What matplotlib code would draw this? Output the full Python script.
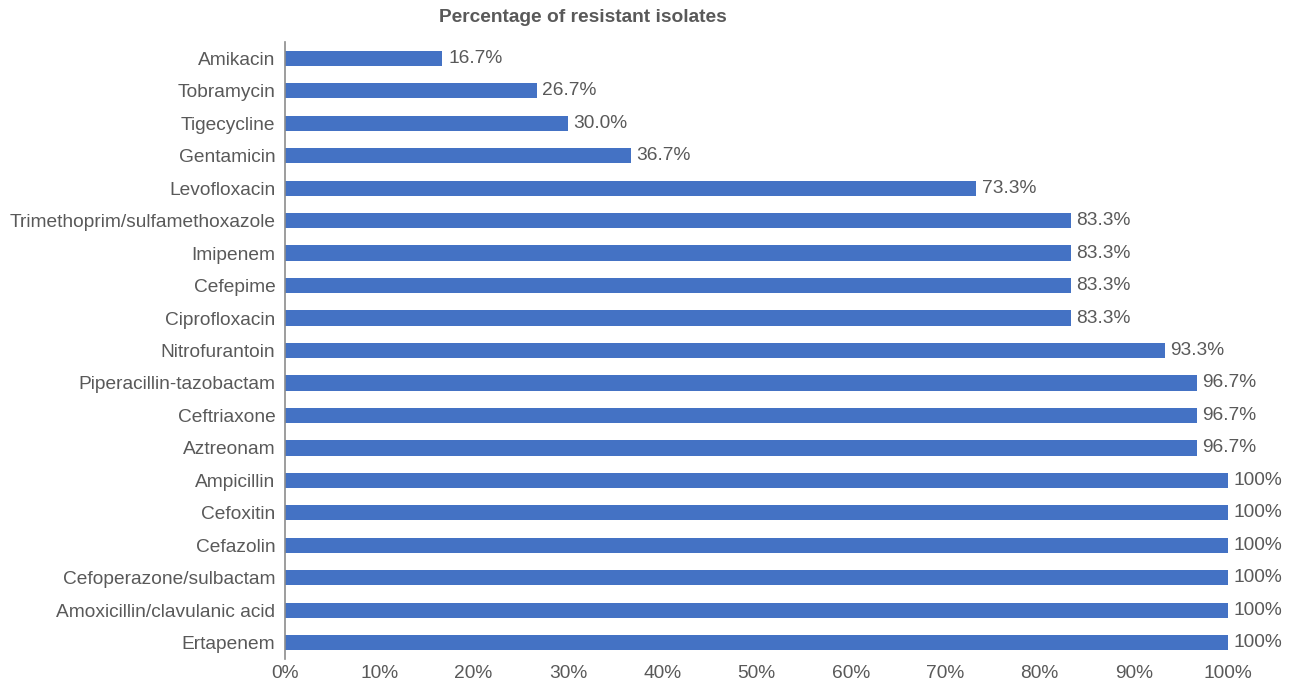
import matplotlib
matplotlib.use("Agg")
import matplotlib.pyplot as plt
from matplotlib.ticker import FuncFormatter

drugs = ["Amikacin", "Tobramycin", "Tigecycline", "Gentamicin", "Levofloxacin",
         "Trimethoprim/sulfamethoxazole", "Imipenem", "Cefepime", "Ciprofloxacin",
         "Nitrofurantoin", "Piperacillin-tazobactam", "Ceftriaxone", "Aztreonam",
         "Ampicillin", "Cefoxitin", "Cefazolin", "Cefoperazone/sulbactam",
         "Amoxicillin/clavulanic acid", "Ertapenem"]
values = [16.7, 26.7, 30.0, 36.7, 73.3, 83.3, 83.3, 83.3, 83.3, 93.3,
          96.7, 96.7, 96.7, 100, 100, 100, 100, 100, 100]
labels = ["16.7%", "26.7%", "30.0%", "36.7%", "73.3%", "83.3%", "83.3%", "83.3%",
          "83.3%", "93.3%", "96.7%", "96.7%", "96.7%", "100%", "100%", "100%",
          "100%", "100%", "100%"]

plt.rcParams['font.family'] = ['Liberation Sans', 'DejaVu Sans']
txt = "#595959"
fs = 13.8

fig = plt.figure(figsize=(12.96, 6.84), dpi=100)
ax = fig.add_axes([285/1296, 1 - 659/684, (1228-285)/1296, (659-42)/684])

y = list(range(len(drugs)))
ax.barh(y, values, height=0.47, color="#4472C4")
ax.set_ylim(len(drugs) - 0.5, -0.5)
ax.set_xlim(0, 100)
ax.set_yticks(y)
ax.set_yticklabels(drugs, fontsize=fs, color=txt)
ax.set_xticks(range(0, 101, 10))
ax.xaxis.set_major_formatter(FuncFormatter(lambda v, p: f"{int(v)}%"))
ax.tick_params(axis='x', labelsize=fs, colors=txt, length=0, pad=4)
ax.tick_params(axis='y', length=0, pad=7)
for s in ["top", "right", "bottom"]:
    ax.spines[s].set_visible(False)
ax.spines["left"].set_color("#8c8c8c")
ax.spines["left"].set_linewidth(1.2)

for yi, v, lab in zip(y, values, labels):
    ax.annotate(lab, (v, yi), xytext=(4, 0), textcoords="offset points",
                va="center", ha="left", fontsize=fs, color=txt)

fig.text(583/1296, 1 - 18/684, "Percentage of resistant isolates", ha="center",
         va="center", fontsize=13.8, fontweight="bold", color=txt)

fig.savefig("out.png", dpi=100)
